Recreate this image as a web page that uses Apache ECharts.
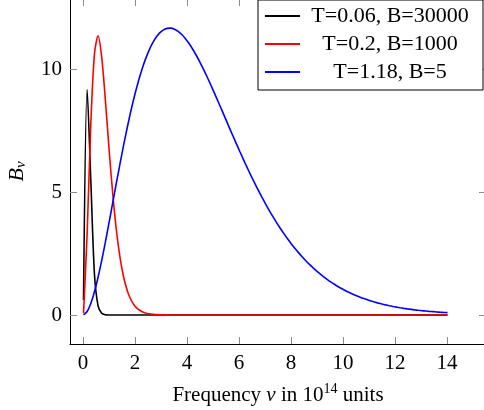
<!DOCTYPE html>
<html>
<head>
<meta charset="utf-8">
<script src="https://cdn.jsdelivr.net/npm/echarts@6/dist/echarts.min.js"></script>
<style>
  html, body { margin: 0; padding: 0; background: #fff; }
  #chart { width: 484px; height: 410px; }
</style>
</head>
<body>
<div id="chart"></div>
<script>
// frequency samples (10^14 units)
const nu = [
  0.02, 0.16, 0.30, 0.44, 0.58, 0.72, 0.86, 1.00, 1.14, 1.28,
  1.42, 1.56, 1.70, 1.84, 1.98, 2.12, 2.26, 2.40, 2.54, 2.68,
  2.82, 2.96, 3.10, 3.24, 3.38, 3.52, 3.66, 3.80, 3.94, 4.08,
  4.22, 4.36, 4.50, 4.64, 4.78, 4.92, 5.06, 5.20, 5.34, 5.48,
  5.62, 5.76, 5.90, 6.04, 6.18, 6.32, 6.46, 6.60, 6.74, 6.88,
  7.02, 7.16, 7.30, 7.44, 7.58, 7.72, 7.86, 8.00, 8.14, 8.28,
  8.42, 8.56, 8.70, 8.84, 8.98, 9.12, 9.26, 9.40, 9.54, 9.68,
  9.82, 9.96, 10.10, 10.24, 10.38, 10.52, 10.66, 10.80, 10.94, 11.08,
  11.22, 11.36, 11.50, 11.64, 11.78, 11.92, 12.06, 12.20, 12.34, 12.48,
  12.62, 12.76, 12.90, 13.04, 13.18, 13.32, 13.46, 13.60, 13.74, 13.88,
  14.02
];

// T=0.06, B=30000
const bBlack = [
  0.607, 9.176, 5.495, 1.671, 0.371, 0.069, 0.011, 0.002, 0.0003, 0,
  0, 0, 0, 0, 0, 0, 0, 0, 0, 0,
  0, 0, 0, 0, 0, 0, 0, 0, 0, 0,
  0, 0, 0, 0, 0, 0, 0, 0, 0, 0,
  0, 0, 0, 0, 0, 0, 0, 0, 0, 0,
  0, 0, 0, 0, 0, 0, 0, 0, 0, 0,
  0, 0, 0, 0, 0, 0, 0, 0, 0, 0,
  0, 0, 0, 0, 0, 0, 0, 0, 0, 0,
  0, 0, 0, 0, 0, 0, 0, 0, 0, 0,
  0, 0, 0, 0, 0, 0, 0, 0, 0, 0,
  0
];

// T=0.2, B=1000
const bRed = [
  0.076, 3.342, 7.755, 10.615, 11.361, 10.485, 8.749, 6.784, 4.974, 3.490,
  2.364, 1.556, 1.000, 0.630, 0.390, 0.237, 0.143, 0.085, 0.050, 0.029,
  0.017, 0.010, 0.006, 0.003, 0.002, 0.001, 0, 0, 0, 0,
  0, 0, 0, 0, 0, 0, 0, 0, 0, 0,
  0, 0, 0, 0, 0, 0, 0, 0, 0, 0,
  0, 0, 0, 0, 0, 0, 0, 0, 0, 0,
  0, 0, 0, 0, 0, 0, 0, 0, 0, 0,
  0, 0, 0, 0, 0, 0, 0, 0, 0, 0,
  0, 0, 0, 0, 0, 0, 0, 0, 0, 0,
  0, 0, 0, 0, 0, 0, 0, 0, 0, 0,
  0
];

// T=1.18, B=5
const bBlue = [
  0.002, 0.141, 0.466, 0.943, 1.537, 2.220, 2.965, 3.749, 4.551, 5.354,
  6.140, 6.900, 7.620, 8.294, 8.913, 9.474, 9.970, 10.404, 10.772, 11.074,
  11.312, 11.489, 11.606, 11.666, 11.674, 11.631, 11.543, 11.413, 11.247, 11.047,
  10.816, 10.561, 10.283, 9.986, 9.675, 9.351, 9.018, 8.678, 8.336, 7.990,
  7.646, 7.305, 6.966, 6.633, 6.306, 5.986, 5.675, 5.373, 5.080, 4.797,
  4.524, 4.262, 4.011, 3.770, 3.540, 3.321, 3.113, 2.914, 2.726, 2.548,
  2.380, 2.221, 2.070, 1.929, 1.795, 1.670, 1.553, 1.443, 1.339, 1.243,
  1.152, 1.068, 0.989, 0.915, 0.847, 0.783, 0.723, 0.668, 0.617, 0.569,
  0.525, 0.484, 0.446, 0.411, 0.378, 0.348, 0.320, 0.294, 0.270, 0.248,
  0.228, 0.209, 0.192, 0.176, 0.162, 0.148, 0.136, 0.124, 0.114, 0.104,
  0.096
];

const seriesNames = ['T=0.06, B=30000', 'T=0.2, B=1000', 'T=1.18, B=5'];
const seriesColors = ['#000000', '#ff0000', '#0000ff'];
const xTicks = [0, 2, 4, 6, 8, 10, 12, 14];
const yTicks = [0, 5, 10];

const FONT = 'Liberation Serif';
const tickColor = '#8c8c8c';

const chart = echarts.init(document.getElementById('chart'), null, { renderer: 'canvas' });

const makeSeries = (vals, i) => ({
  name: seriesNames[i],
  type: 'line',
  data: nu.map((x, k) => [x, vals[k]]),
  symbol: 'none',
  smooth: 0.3,
  lineStyle: { color: seriesColors[i], width: 1.6 },
  itemStyle: { color: seriesColors[i] },
  z: 2 + i
});

const frameAxis = (ticks, extra) => Object.assign({
  type: 'value',
  axisLine: { show: true, onZero: false, lineStyle: { color: '#000', width: 1 } },
  axisTick: { show: true, inside: true, length: 7, customValues: ticks, lineStyle: { color: tickColor, width: 1 } },
  splitLine: { show: false }
}, extra);

const option = {
  backgroundColor: '#fff',
  animation: false,
  grid: { left: 70, top: -1, width: 416, height: 345, outerBoundsMode: 'none', containLabel: false },
  legend: {
    orient: 'vertical',
    left: 258,
    top: 0,
    padding: [5, 8, 7, 7],
    itemGap: 6,
    itemWidth: 35,
    itemHeight: 2,
    icon: 'rect',
    borderColor: '#000',
    borderWidth: 1,
    backgroundColor: '#fff',
    selectedMode: false,
    data: seriesNames,
    formatter: name => '{c|' + name + '}',
    textStyle: {
      color: '#000',
      fontFamily: FONT,
      fontSize: 22,
      rich: { c: { width: 170, align: 'center', fontFamily: FONT, fontSize: 22, lineHeight: 21 } }
    }
  },
  xAxis: [
    frameAxis(xTicks, {
      min: -0.5, max: 15.5, position: 'bottom',
      axisLabel: { customValues: xTicks, color: '#000', fontFamily: FONT, fontSize: 21, margin: 9 },
      name: '{t|Frequency }{i|ν}{t| in 10}{s|14}{t| units}',
      nameLocation: 'middle',
      nameGap: 38,
      nameTextStyle: {
        color: '#000',
        rich: {
          t: { fontFamily: FONT, fontSize: 21, lineHeight: 26, verticalAlign: 'middle' },
          i: { fontFamily: FONT, fontSize: 21, fontStyle: 'italic', lineHeight: 26, verticalAlign: 'middle' },
          s: { fontFamily: FONT, fontSize: 14, lineHeight: 14, verticalAlign: 'top' }
        }
      }
    }),
    frameAxis(xTicks, { min: -0.5, max: 15.5, position: 'top', axisLabel: { show: false } })
  ],
  yAxis: [
    frameAxis(yTicks, {
      min: -1.18, max: 12.86, position: 'left',
      axisLabel: { customValues: yTicks, color: '#000', fontFamily: FONT, fontSize: 21, margin: 8 },
      name: '{b|B}{s|ν}',
      nameLocation: 'middle',
      nameRotate: 90,
      nameGap: 41,
      nameTextStyle: {
        color: '#000',
        rich: {
          b: { fontFamily: FONT, fontSize: 22, fontStyle: 'italic', lineHeight: 24, verticalAlign: 'middle' },
          s: { fontFamily: FONT, fontSize: 15, fontStyle: 'italic', lineHeight: 15, verticalAlign: 'bottom' }
        }
      }
    }),
    frameAxis(yTicks, { min: -1.18, max: 12.86, position: 'right', axisLabel: { show: false } })
  ],
  series: [makeSeries(bBlack, 0), makeSeries(bRed, 1), makeSeries(bBlue, 2)]
};

chart.setOption(option);
</script>
</body>
</html>
